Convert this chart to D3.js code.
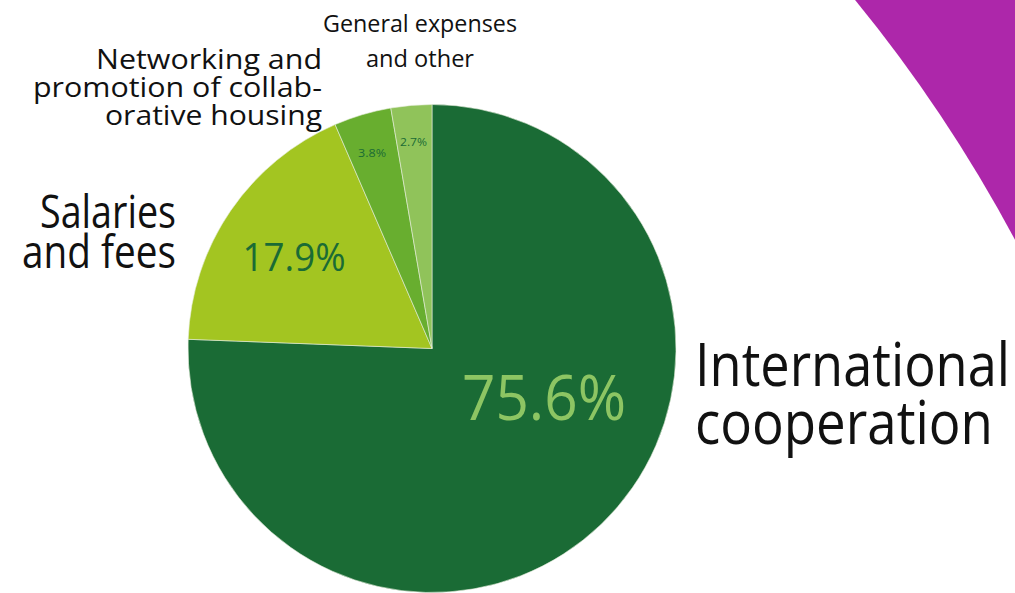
<!DOCTYPE html>
<html>
<head>
<meta charset="utf-8">
<script src="https://cdn.jsdelivr.net/npm/d3@7"></script>
<style>
  body { margin: 0; background: #fff; }
  svg { display: block; }
  text { font-family: "Open Sans", "Noto Sans", sans-serif; }
</style>
</head>
<body>
<script>
// data
const categories = ['International cooperation', 'Salaries and fees',
  'Networking and promotion of collaborative housing', 'General expenses and other'];
const shares = [75.6, 17.9, 3.8, 2.7];
const colors = ['#1a6b35', '#a3c521', '#68ae2f', '#90c35a'];

// label lines (category names as they are broken in the picture)
const nameLines = [
  ['International', 'cooperation'],
  ['Salaries', 'and fees'],
  ['Networking and', 'promotion of collab-', 'orative housing'],
  ['General expenses', 'and other']
];

const W = 1015, H = 593;
const cx = 432, cy = 348.5, R = 244;

// layout of the texts, relative to pie centre
const nameLayout = [
  { x: 263, y: 37.5, dy: 58, size: 60, anchor: 'start', widths: [315, 298], color: '#111' },
  { x: -256, y: -120.5, dy: 40, size: 45, anchor: 'end', widths: [136, 154], color: '#111' },
  { x: -110, y: -279.5, dy: 28, size: 27, anchor: 'end', widths: [226, 289, 217], color: '#111' },
  { x: -12, y: -316.5, dy: 35, size: 24, anchor: 'middle', widths: [194, 108], color: '#111' }
];
const pctLayout = [
  { x: 112, y: 71, size: 62, width: 164, color: '#8dc563' },
  { x: -138, y: -77.5, size: 39, width: 103, color: '#1a6b35' },
  { x: -60, y: -191.5, size: 11, width: 28, color: '#1a6b35' },
  { x: -18.5, y: -202.5, size: 11, width: 27, color: '#1a6b35' }
];

const svg = d3.select('body').append('svg')
  .attr('width', W)
  .attr('height', H);

// purple backdrop, cut by a large white circle
svg.append('rect')
  .attr('width', W).attr('height', H)
  .attr('fill', '#ad27aa');
svg.append('circle')
  .attr('cx', -287).attr('cy', 935).attr('r', 1476)
  .attr('fill', '#fff');

const pie = d3.pie().sort(null).value(d => d);
const arc = d3.arc().innerRadius(0).outerRadius(R);

const g = svg.append('g')
  .attr('transform', `translate(${cx},${cy})`);

g.selectAll('path')
  .data(pie(shares)).enter()
  .append('path')
  .attr('d', arc)
  .attr('fill', (d, i) => colors[i])
  .attr('stroke', '#e8eedd')
  .attr('stroke-width', 0.6);

// percentage labels
g.selectAll('text.pct')
  .data(shares).enter()
  .append('text')
  .attr('class', 'pct')
  .attr('x', (d, i) => pctLayout[i].x)
  .attr('y', (d, i) => pctLayout[i].y)
  .attr('text-anchor', 'middle')
  .attr('font-size', (d, i) => pctLayout[i].size)
  .attr('textLength', (d, i) => pctLayout[i].width)
  .attr('lengthAdjust', 'spacingAndGlyphs')
  .attr('fill', (d, i) => pctLayout[i].color)
  .text(d => d.toFixed(1) + '%');

// category names
const names = g.selectAll('text.name')
  .data(categories).enter()
  .append('text')
  .attr('class', 'name')
  .attr('text-anchor', (d, i) => nameLayout[i].anchor)
  .attr('font-size', (d, i) => nameLayout[i].size)
  .attr('fill', (d, i) => nameLayout[i].color);

names.each(function(d, i) {
  const L = nameLayout[i];
  d3.select(this).selectAll('tspan')
    .data(nameLines[i]).enter()
    .append('tspan')
    .attr('x', L.x)
    .attr('y', (s, j) => L.y + j * L.dy)
    .attr('textLength', (s, j) => L.widths[j])
    .attr('lengthAdjust', 'spacingAndGlyphs')
    .text(s => s);
});
</script>
</body>
</html>
